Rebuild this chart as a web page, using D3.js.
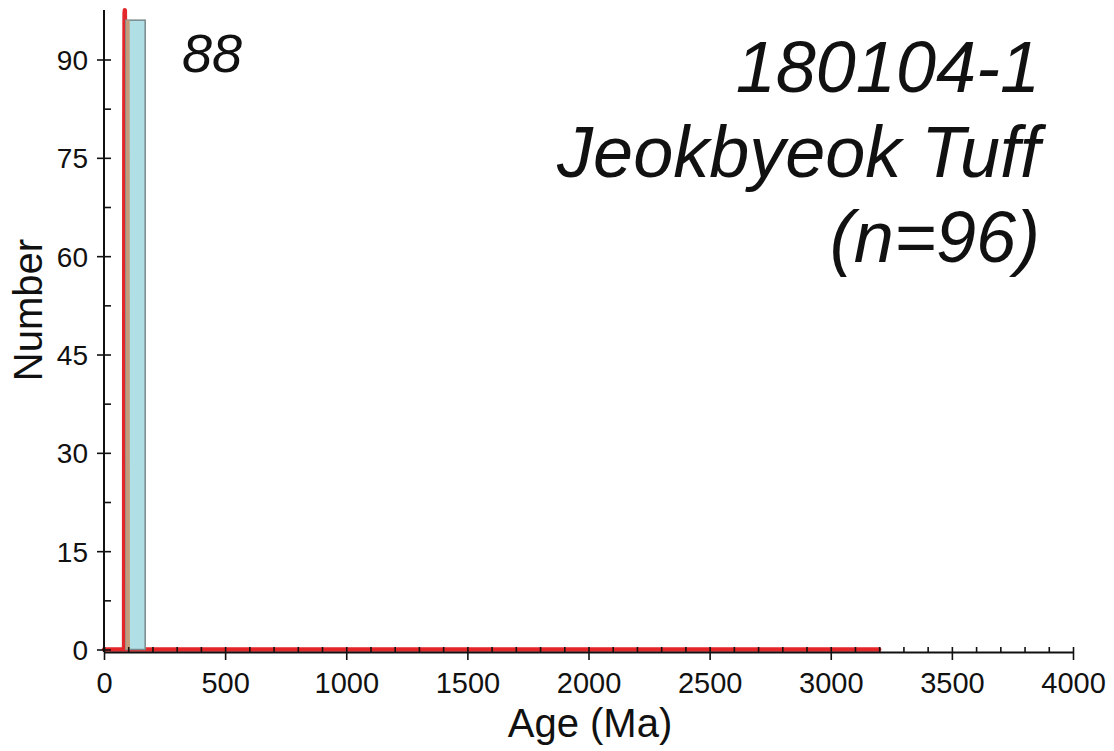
<!DOCTYPE html>
<html>
<head>
<meta charset="utf-8">
<script src="https://cdn.jsdelivr.net/npm/d3@7"></script>
<style>
  html, body { margin: 0; padding: 0; background: #fff; }
  svg { display: block; font-family: "Liberation Sans", Arial, sans-serif; }
</style>
</head>
<body>
<svg id="chart" width="1114" height="751"></svg>
<script>
// Histogram of U-Pb ages
const binStart = [90];
const binEnd = [170];
const binCount = [96];

// Probability density curve, scaled to the count axis
const pdpAge = [0, 83, 84, 85, 86, 87, 89, 3200];
const pdpValue = [0, 0, 80, 97, 97.5, 90, 0, 0];

// Shaded density band over the histogram
const bandAge = [89, 90, 106, 107];
const bandValue = [0, 96, 96, 0];

const peakLabel = "88";
const titleLines = ["180104-1", "Jeokbyeok Tuff", "(n=96)"];

const svg = d3.select("#chart");

const x = d3.scaleLinear().domain([0, 4000]).range([104, 1073]);
const y = d3.scaleLinear().domain([0, 90]).range([649.5, 59.5]);
const axisY = 652;

// Probability density line
const line = d3.line().x((d, i) => x(pdpAge[i])).y(d => y(d));
svg.append("path")
  .datum(pdpValue)
  .attr("d", line)
  .attr("fill", "none")
  .attr("stroke", "#e3262a")
  .attr("stroke-width", 4.5)
  .attr("stroke-linejoin", "round")
  .attr("stroke-linecap", "round");

// Histogram bars
svg.selectAll("rect.bar")
  .data(binCount)
  .join("rect")
  .attr("class", "bar")
  .attr("x", (d, i) => x(binStart[i]))
  .attr("width", (d, i) => x(binEnd[i]) - x(binStart[i]))
  .attr("y", d => y(d))
  .attr("height", d => y(0) - y(d))
  .attr("fill", "#b0e0e6")
  .attr("stroke", "#7a8a8c")
  .attr("stroke-width", 1.5);

// Density band
const area = d3.area().x((d, i) => x(bandAge[i])).y0(y(0)).y1(d => y(d));
svg.append("path")
  .datum(bandValue)
  .attr("d", area)
  .attr("fill", "#c49c7c")
  .attr("stroke", "none");

// X axis
const xAxis = d3.axisBottom(x)
  .tickValues(d3.range(0, 4001, 100))
  .tickSize(0)
  .tickFormat(d => (d % 500 === 0 ? d : ""));
const gx = svg.append("g").attr("transform", `translate(0,${axisY})`).call(xAxis);
gx.select(".domain").attr("stroke", "#111").attr("stroke-width", 2);
gx.selectAll(".tick line")
  .attr("stroke", "#111")
  .attr("stroke-width", 1.6)
  .attr("y1", -5)
  .attr("y2", d => (d % 500 === 0 ? 8 : 0));
gx.selectAll(".tick text")
  .attr("y", 41)
  .attr("dy", 0)
  .attr("font-size", 29)
  .attr("fill", "#111")
  .attr("font-family", "Liberation Sans, Arial, sans-serif");

// Y axis
const yAxis = d3.axisLeft(y)
  .tickValues(d3.range(0, 91, 7.5))
  .tickSize(0)
  .tickFormat(d => (d % 15 === 0 ? d : ""));
const gy = svg.append("g").attr("transform", "translate(104,0)").call(yAxis);
gy.select(".domain")
  .attr("stroke", "#111").attr("stroke-width", 2)
  .attr("d", `M0,${axisY}V10`);
gy.selectAll(".tick line")
  .attr("stroke", "#111")
  .attr("stroke-width", 1.6)
  .attr("x1", d => (d % 15 === 0 ? -7 : 0))
  .attr("x2", 7);
gy.selectAll(".tick text")
  .attr("x", -16)
  .attr("dy", "0.36em")
  .attr("font-size", 28)
  .attr("fill", "#111")
  .attr("font-family", "Liberation Sans, Arial, sans-serif");

// Axis titles
svg.append("text")
  .attr("x", 590).attr("y", 737)
  .attr("text-anchor", "middle")
  .attr("font-size", 40)
  .attr("fill", "#111")
  .text("Age (Ma)");
svg.append("text")
  .attr("transform", "translate(42,310) rotate(-90)")
  .attr("text-anchor", "middle")
  .attr("font-size", 40)
  .attr("fill", "#111")
  .text("Number");

// Peak age label
svg.append("text")
  .attr("x", 182).attr("y", 72)
  .attr("font-size", 54)
  .attr("font-style", "italic")
  .attr("fill", "#111")
  .text(peakLabel);

// Sample title
svg.selectAll("text.title")
  .data(titleLines)
  .join("text")
  .attr("class", "title")
  .attr("x", 1040)
  .attr("y", (d, i) => 92 + i * 85)
  .attr("text-anchor", "end")
  .attr("font-size", 72)
  .attr("font-style", "italic")
  .attr("fill", "#111")
  .text(d => d);
</script>
</body>
</html>
